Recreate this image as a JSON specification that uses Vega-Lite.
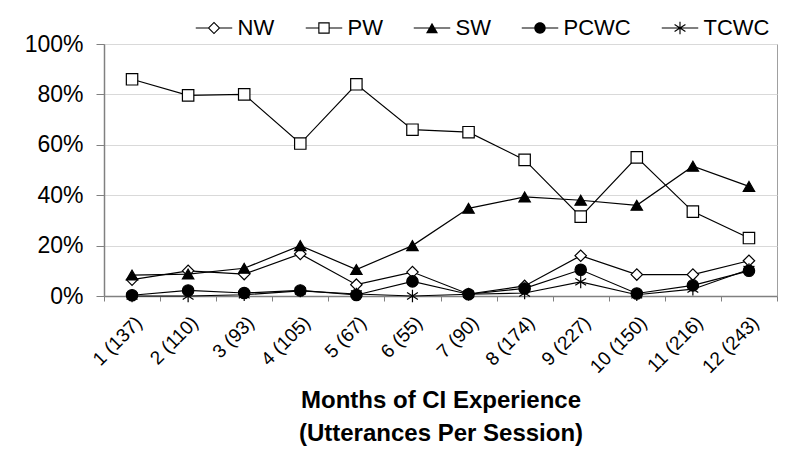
{
  "$schema": "https://vega.github.io/schema/vega-lite/v6.json",
  "width": 673,
  "height": 252,
  "autosize": {"type": "none"},
  "padding": {"left": 104, "top": 44, "right": 23, "bottom": 172},
  "background": "white",
  "config": {
    "font": "Liberation Sans",
    "view": {"stroke": "#a0a0a0", "strokeWidth": 1},
    "axis": {"labelColor": "black", "titleColor": "black", "domainColor": "#808080", "tickColor": "#808080"}
  },
  "data": {
    "values": [
      {"month": "1 (137)", "series": "NW", "value": 0.065},
      {"month": "2 (110)", "series": "NW", "value": 0.10},
      {"month": "3 (93)", "series": "NW", "value": 0.087},
      {"month": "4 (105)", "series": "NW", "value": 0.167},
      {"month": "5 (67)", "series": "NW", "value": 0.045},
      {"month": "6 (55)", "series": "NW", "value": 0.095},
      {"month": "7 (90)", "series": "NW", "value": 0.008},
      {"month": "8 (174)", "series": "NW", "value": 0.04},
      {"month": "9 (227)", "series": "NW", "value": 0.16},
      {"month": "10 (150)", "series": "NW", "value": 0.085},
      {"month": "11 (216)", "series": "NW", "value": 0.085},
      {"month": "12 (243)", "series": "NW", "value": 0.14},
      {"month": "1 (137)", "series": "PW", "value": 0.86},
      {"month": "2 (110)", "series": "PW", "value": 0.796},
      {"month": "3 (93)", "series": "PW", "value": 0.80},
      {"month": "4 (105)", "series": "PW", "value": 0.605},
      {"month": "5 (67)", "series": "PW", "value": 0.84},
      {"month": "6 (55)", "series": "PW", "value": 0.66},
      {"month": "7 (90)", "series": "PW", "value": 0.65},
      {"month": "8 (174)", "series": "PW", "value": 0.54},
      {"month": "9 (227)", "series": "PW", "value": 0.315},
      {"month": "10 (150)", "series": "PW", "value": 0.55},
      {"month": "11 (216)", "series": "PW", "value": 0.335},
      {"month": "12 (243)", "series": "PW", "value": 0.23},
      {"month": "1 (137)", "series": "SW", "value": 0.083},
      {"month": "2 (110)", "series": "SW", "value": 0.087},
      {"month": "3 (93)", "series": "SW", "value": 0.11},
      {"month": "4 (105)", "series": "SW", "value": 0.2},
      {"month": "5 (67)", "series": "SW", "value": 0.105},
      {"month": "6 (55)", "series": "SW", "value": 0.2},
      {"month": "7 (90)", "series": "SW", "value": 0.348},
      {"month": "8 (174)", "series": "SW", "value": 0.393},
      {"month": "9 (227)", "series": "SW", "value": 0.38},
      {"month": "10 (150)", "series": "SW", "value": 0.36},
      {"month": "11 (216)", "series": "SW", "value": 0.515},
      {"month": "12 (243)", "series": "SW", "value": 0.435},
      {"month": "1 (137)", "series": "PCWC", "value": 0.003},
      {"month": "2 (110)", "series": "PCWC", "value": 0.022},
      {"month": "3 (93)", "series": "PCWC", "value": 0.012},
      {"month": "4 (105)", "series": "PCWC", "value": 0.022},
      {"month": "5 (67)", "series": "PCWC", "value": 0.004},
      {"month": "6 (55)", "series": "PCWC", "value": 0.058},
      {"month": "7 (90)", "series": "PCWC", "value": 0.007},
      {"month": "8 (174)", "series": "PCWC", "value": 0.03},
      {"month": "9 (227)", "series": "PCWC", "value": 0.104},
      {"month": "10 (150)", "series": "PCWC", "value": 0.01},
      {"month": "11 (216)", "series": "PCWC", "value": 0.042},
      {"month": "12 (243)", "series": "PCWC", "value": 0.10},
      {"month": "1 (137)", "series": "TCWC", "value": 0.0},
      {"month": "2 (110)", "series": "TCWC", "value": 0.0},
      {"month": "3 (93)", "series": "TCWC", "value": 0.005},
      {"month": "4 (105)", "series": "TCWC", "value": 0.02},
      {"month": "5 (67)", "series": "TCWC", "value": 0.008},
      {"month": "6 (55)", "series": "TCWC", "value": 0.0},
      {"month": "7 (90)", "series": "TCWC", "value": 0.007},
      {"month": "8 (174)", "series": "TCWC", "value": 0.012},
      {"month": "9 (227)", "series": "TCWC", "value": 0.056},
      {"month": "10 (150)", "series": "TCWC", "value": 0.005},
      {"month": "11 (216)", "series": "TCWC", "value": 0.027},
      {"month": "12 (243)", "series": "TCWC", "value": 0.105}
    ]
  },
  "encoding": {
    "x": {
      "field": "month",
      "type": "nominal",
      "sort": null,
      "scale": {"type": "band", "paddingInner": 0, "paddingOuter": 0},
      "axis": {
        "title": ["Months of CI Experience", "(Utterances Per Session)"],
        "titleFontSize": 24,
        "titleFontWeight": "bold",
        "titleLineHeight": 33,
        "titlePadding": 12,
        "labelAngle": -45,
        "labelFontSize": 19,
        "labelPadding": 12,
        "labelDx": -16,
        "labelDy": -5,
        "tickBand": "extent",
        "tickSize": 5,
        "grid": false,
        "domainWidth": 1.5,
        "labelOverlap": false
      }
    },
    "y": {
      "field": "value",
      "type": "quantitative",
      "scale": {"domain": [0, 1], "nice": false},
      "axis": {
        "title": null,
        "values": [0, 0.2, 0.4, 0.6, 0.8, 1],
        "format": ".0%",
        "labelFontSize": 23,
        "labelPadding": 13,
        "tickSize": 8,
        "domainWidth": 1.5,
        "gridColor": "#d9d9d9",
        "gridWidth": 1
      }
    }
  },
  "layer": [
    {
      "mark": {"type": "line", "color": "black", "strokeWidth": 1.2},
      "encoding": {"detail": {"field": "series"}}
    },
    {
      "mark": {"type": "point", "filled": true, "stroke": "black", "strokeWidth": 1.2, "opacity": 1, "size": 130},
      "encoding": {
        "shape": {
          "field": "series",
          "type": "nominal",
          "scale": {
            "domain": ["NW", "PW", "SW", "PCWC", "TCWC"],
            "range": ["diamond", "square", "triangle-up", "circle", "M0,-1.1L0,1.1M-0.95,-0.6L0.95,0.6M-0.95,0.6L0.95,-0.6"]
          },
          "legend": null
        },
        "fill": {
          "field": "series",
          "type": "nominal",
          "scale": {
            "domain": ["NW", "PW", "SW", "PCWC", "TCWC"],
            "range": ["white", "white", "black", "black", "transparent"]
          },
          "legend": null
        }
      }
    },
    {
      "transform": [{"filter": "false"}],
      "mark": {"type": "point", "filled": true, "color": "black", "opacity": 1, "size": 130},
      "encoding": {
        "shape": {
          "field": "series",
          "type": "nominal",
          "scale": {
            "domain": ["NW", "PW", "SW", "PCWC", "TCWC"],
            "range": [
              "M-3.2,-0.1L-1,-0.1L-1,0.1L-3.2,0.1ZM1,-0.1L3.2,-0.1L3.2,0.1L1,0.1ZM0,-1.1L1.1,0L0,1.1L-1.1,0ZM0,-0.82L-0.82,0L0,0.82L0.82,0Z",
              "M-3.2,-0.1L-1,-0.1L-1,0.1L-3.2,0.1ZM1,-0.1L3.2,-0.1L3.2,0.1L1,0.1ZM-1,-1L1,-1L1,1L-1,1ZM-0.8,-0.8L-0.8,0.8L0.8,0.8L0.8,-0.8Z",
              "M-3.2,-0.1L-0.45,-0.1L-0.45,0.1L-3.2,0.1ZM0.45,-0.1L3.2,-0.1L3.2,0.1L0.45,0.1ZM0,-0.9L1.05,0.9L-1.05,0.9Z",
              "M-3.2,-0.1L-0.9,-0.1L-0.9,0.1L-3.2,0.1ZM0.9,-0.1L3.2,-0.1L3.2,0.1L0.9,0.1ZM1,0A1,1,0,1,1,-1,0A1,1,0,1,1,1,0Z",
              "M-3.2,-0.1L3.2,-0.1L3.2,0.1L-3.2,0.1ZM-0.1,-1.1L0.1,-1.1L0.1,1.1L-0.1,1.1ZM-1.003,-0.515L-0.897,-0.685L1.003,0.515L0.897,0.685ZM-0.897,0.685L-1.003,0.515L0.897,-0.685L1.003,-0.515Z"
            ]
          },
          "legend": {
            "title": null,
            "orient": "none",
            "direction": "horizontal",
            "columns": 5,
            "legendX": 99,
            "legendY": -27,
            "padding": 0,
            "labelFontSize": 22,
            "labelColor": "black",
            "labelOffset": 12.5,
            "columnPadding": 30,
            "symbolSize": 130,
            "symbolFillColor": "black",
            "symbolStrokeWidth": 0,
            "symbolOpacity": 1
          }
        }
      }
    }
  ],
  "resolve": {"scale": {"shape": "independent", "fill": "independent"}, "legend": {"shape": "independent"}}
}
